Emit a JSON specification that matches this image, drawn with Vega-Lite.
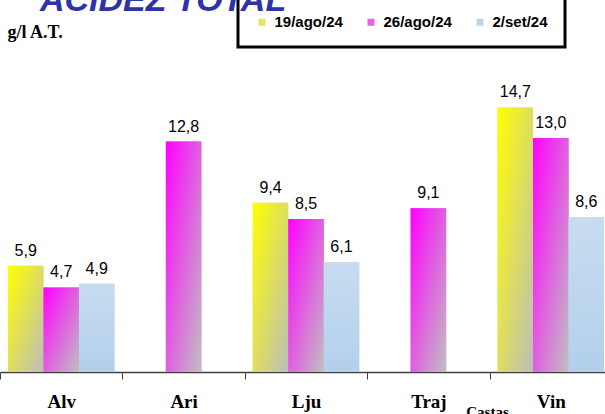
{
  "$schema": "https://vega.github.io/schema/vega-lite/v6.json",
  "width": 605,
  "height": 324,
  "autosize": {"type": "none"},
  "padding": {"left": 0, "top": 48, "right": 0, "bottom": 42},
  "title": {
    "text": "ACIDEZ TOTAL",
    "anchor": "start",
    "frame": "group",
    "dx": 40,
    "dy": 21,
    "offset": 0,
    "font": "Liberation Sans",
    "fontSize": 34,
    "fontStyle": "italic",
    "fontWeight": "bold",
    "color": "#2f33a8"
  },
  "config": {
    "view": {"stroke": null},
    "locale": {
      "number": {"decimal": ",", "thousands": ".", "grouping": [3], "currency": ["", " €"]}
    }
  },
  "data": {
    "values": [
      {"casta": "Alv", "serie": "19/ago/24", "valor": 5.9},
      {"casta": "Alv", "serie": "26/ago/24", "valor": 4.7},
      {"casta": "Alv", "serie": "2/set/24", "valor": 4.9},
      {"casta": "Ari", "serie": "26/ago/24", "valor": 12.8},
      {"casta": "Lju", "serie": "19/ago/24", "valor": 9.4},
      {"casta": "Lju", "serie": "26/ago/24", "valor": 8.5},
      {"casta": "Lju", "serie": "2/set/24", "valor": 6.1},
      {"casta": "Traj", "serie": "26/ago/24", "valor": 9.1},
      {"casta": "Vin", "serie": "19/ago/24", "valor": 14.7},
      {"casta": "Vin", "serie": "26/ago/24", "valor": 13.0},
      {"casta": "Vin", "serie": "2/set/24", "valor": 8.6}
    ]
  },
  "encoding": {
    "x": {
      "field": "casta",
      "type": "nominal",
      "sort": ["Alv", "Ari", "Lju", "Traj", "Vin"],
      "scale": {"paddingInner": 0, "paddingOuter": 0, "range": [0, 612]},
      "axis": {
        "title": "Castas",
        "titleFont": "Liberation Serif",
        "titleFontWeight": "bold",
        "titleFontSize": 15,
        "titleColor": "black",
        "titleX": 487,
        "titleY": 32,
        "titleBaseline": "top",
        "titleAlign": "center",
        "labelFont": "Liberation Serif",
        "labelFontWeight": "bold",
        "labelFontSize": 19,
        "labelColor": "black",
        "labelBaseline": "alphabetic",
        "labelPadding": 28,
        "labelAngle": 0,
        "tickBand": "extent",
        "tickSize": 7,
        "tickColor": "#404040",
        "domainColor": "#404040",
        "domainWidth": 1.5,
        "grid": false
      }
    },
    "xOffset": {
      "field": "serie",
      "type": "nominal",
      "sort": ["19/ago/24", "26/ago/24", "2/set/24"],
      "scale": {"domain": ["19/ago/24", "26/ago/24", "2/set/24"], "paddingInner": 0, "paddingOuter": 0.224}
    },
    "y": {
      "field": "valor",
      "type": "quantitative",
      "scale": {"domain": [0, 18], "nice": false},
      "axis": {
        "title": "g/l A.T.",
        "domain": false,
        "ticks": false,
        "labels": false,
        "grid": false,
        "titleAngle": 0,
        "titleAlign": "left",
        "titleBaseline": "alphabetic",
        "titleX": 7,
        "titleY": -11,
        "titleFont": "Liberation Serif",
        "titleFontWeight": "bold",
        "titleFontSize": 18,
        "titleColor": "black"
      }
    }
  },
  "layer": [
    {
      "mark": {"type": "bar"},
      "encoding": {
        "color": {
          "field": "serie",
          "type": "nominal",
          "sort": ["19/ago/24", "26/ago/24", "2/set/24"],
          "scale": {"domain": ["19/ago/24", "26/ago/24", "2/set/24"], "range": ["#e6e660", "#e266e2", "#bcd4ee"]},
          "legend": {
            "title": null,
            "orient": "none",
            "direction": "horizontal",
            "legendX": 238,
            "legendY": -50,
            "padding": 16.5,
            "strokeColor": "black",
            "symbolType": "square",
            "symbolSize": 49,
            "symbolStrokeWidth": 0,
            "labelFont": "Liberation Sans",
            "labelFontWeight": "bold",
            "labelFontSize": 15,
            "labelColor": "black",
            "labelOffset": 5,
            "columnPadding": 20,
            "encode": {
              "legend": {"update": {"strokeWidth": {"value": 3}}},
              "symbols": {
                "update": {
                  "fill": [
                    {"test": "datum.value === '19/ago/24'", "value": {"gradient": "linear", "x1": 0, "y1": 0, "x2": 1, "y2": 1, "stops": [{"offset": 0, "color": "#ffff00"}, {"offset": 1, "color": "#bdbdbd"}]}},
                    {"test": "datum.value === '26/ago/24'", "value": {"gradient": "linear", "x1": 0, "y1": 0, "x2": 1, "y2": 1, "stops": [{"offset": 0, "color": "#ff00ff"}, {"offset": 1, "color": "#c0c0c0"}]}},
                    {"value": {"gradient": "linear", "x1": 0, "y1": 0, "x2": 0, "y2": 1, "stops": [{"offset": 0, "color": "#c8dcf0"}, {"offset": 1, "color": "#b2d0ec"}]}}
                  ]
                }
              }
            }
          }
        }
      }
    },
    {
      "mark": {"type": "bar"},
      "encoding": {
        "fill": {
          "condition": [
            {"test": "datum.serie === '19/ago/24'", "value": {"gradient": "linear", "x1": 0, "y1": 0, "x2": 1, "y2": 1, "stops": [{"offset": 0, "color": "#ffff00"}, {"offset": 1, "color": "#bdbdbd"}]}},
            {"test": "datum.serie === '26/ago/24'", "value": {"gradient": "linear", "x1": 0, "y1": 0, "x2": 1, "y2": 1, "stops": [{"offset": 0, "color": "#ff00ff"}, {"offset": 1, "color": "#c0c0c0"}]}}
          ],
          "value": {"gradient": "linear", "x1": 0, "y1": 0, "x2": 0, "y2": 1, "stops": [{"offset": 0, "color": "#c8dcf0"}, {"offset": 1, "color": "#b2d0ec"}]}
        }
      }
    },
    {
      "mark": {
        "type": "text",
        "baseline": "alphabetic",
        "dy": -10,
        "font": "Liberation Sans",
        "fontSize": 16,
        "color": "black"
      },
      "encoding": {
        "text": {"field": "valor", "type": "quantitative", "format": ".1f"}
      }
    }
  ]
}
